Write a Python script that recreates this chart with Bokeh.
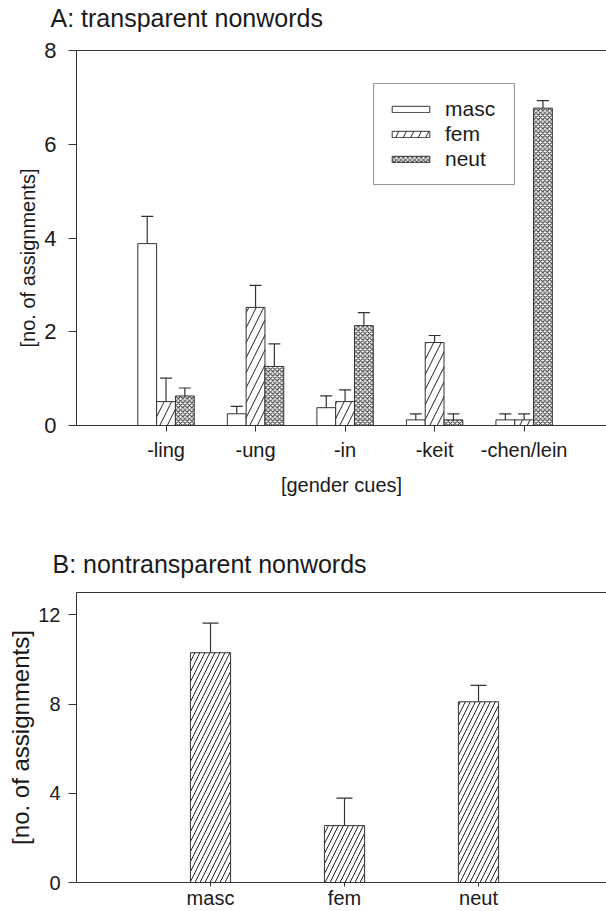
from bokeh.plotting import figure
from bokeh.models import (ColumnDataSource, Whisker, TeeHead, Legend, LegendItem,
                          LinearAxis, FixedTicker, Range1d, Title)
from bokeh.layouts import column
from bokeh.embed import file_html
from bokeh.resources import INLINE

# ---------------- data ----------------
cue_labels = ["-ling", "-ung", "-in", "-keit", "-chen/lein"]
cue_pos = [1, 2, 3, 4, 5]
masc_a = [3.88, 0.25, 0.38, 0.12, 0.12]
masc_a_err = [0.58, 0.16, 0.25, 0.13, 0.13]
fem_a = [0.51, 2.52, 0.51, 1.77, 0.12]
fem_a_err = [0.50, 0.47, 0.25, 0.15, 0.13]
neut_a = [0.63, 1.26, 2.13, 0.12, 6.77]
neut_a_err = [0.17, 0.48, 0.28, 0.13, 0.16]
y_ticks_a = [0, 2, 4, 6, 8]

gender_labels = ["masc", "fem", "neut"]
gender_pos = [1, 2, 3]
vals_b = [10.3, 2.55, 8.1]
errs_b = [1.33, 1.23, 0.74]
y_ticks_b = [0, 4, 8, 12]

FONT = "Liberation Sans"
INK = "#1a1a1a"
LINE = "#333333"


def style_axes(p, xticks, xlabels, yticks, ytick_size, ytick_standoff, xtick_out,
               xtick_standoff, top_gap_font, top_gap_standoff):
    p.xgrid.visible = False
    p.ygrid.visible = False
    p.outline_line_color = None
    p.background_fill_color = "white"
    p.border_fill_color = "white"
    xa = p.xaxis[0]
    xa.ticker = FixedTicker(ticks=xticks)
    xa.major_label_overrides = {t: l for t, l in zip(xticks, xlabels)}
    ya = p.yaxis[0]
    ya.ticker = FixedTicker(ticks=yticks)
    for ax in (xa, ya):
        ax.axis_line_color = LINE
        ax.axis_line_width = 1
        ax.major_tick_line_color = LINE
        ax.major_tick_in = 0
        ax.minor_tick_line_color = None
        ax.major_label_text_font = FONT
        ax.major_label_text_color = INK
        ax.major_label_text_font_size = "20px"
        ax.axis_label_text_font = FONT
        ax.axis_label_text_color = INK
        ax.axis_label_text_font_style = "normal"
    ya.major_label_text_font_size = ytick_size
    xa.major_tick_out = xtick_out
    ya.major_tick_out = 8
    xa.major_label_standoff = xtick_standoff
    ya.major_label_standoff = ytick_standoff
    # top frame line; its (blank) label only reserves room between title and frame
    top = LinearAxis(ticker=FixedTicker(ticks=[]), axis_line_color=LINE,
                     major_tick_line_color=None, minor_tick_line_color=None,
                     major_tick_out=0, major_tick_in=0, major_label_standoff=0,
                     major_label_text_font_size="0px",
                     axis_label="\u00a0", axis_label_text_font_size=top_gap_font,
                     axis_label_standoff=top_gap_standoff)
    p.add_layout(top, "above")
    return xa, ya


def style_title(p, text, offset):
    p.title.text = text
    p.title.align = "left"
    p.title.offset = offset
    p.title.text_font = FONT
    p.title.text_font_size = "25px"
    p.title.text_font_style = "normal"
    p.title.text_color = INK
    p.title.standoff = 0


# ---------------- panel A ----------------
pA = figure(width=606, height=545, x_range=Range1d(0, 5.92), y_range=Range1d(0, 8),
            output_backend="svg", toolbar_location=None,
            min_border_left=76, min_border_right=0, min_border_top=50, min_border_bottom=120)
style_title(pA, "A: transparent nonwords", -26)
xa, ya = style_axes(pA, cue_pos, cue_labels, y_ticks_a, "22px", 12, 6, 7, "10px", 5)
xa.axis_label = "[gender cues]"
xa.axis_label_text_font_size = "20px"
xa.axis_label_standoff = 10
pA.add_layout(Title(text="[no. of assignments]", align="left", offset=78, standoff=6,
                    text_font=FONT, text_font_size="20px", text_font_style="normal",
                    text_color=INK), "left")

bw = 0.21
series = [
    ("masc", masc_a, masc_a_err, -bw, None, 12),
    ("fem", fem_a, fem_a_err, 0.0, "/", 15),
    ("neut", neut_a, neut_a_err, bw, "x", 4.5),
]
items = []
for name, vals, errs, off, hatch, scale in series:
    xs = [c + off for c in cue_pos]
    src = ColumnDataSource(dict(x=xs, top=vals, up=[v + e for v, e in zip(vals, errs)]))
    kw = {}
    if hatch:
        kw = dict(hatch_pattern=hatch, hatch_scale=scale, hatch_color="#222222", hatch_weight=1)
    r = pA.vbar(x="x", top="top", width=bw, source=src, fill_color="white",
                line_color=LINE, line_width=1, **kw)
    pA.add_layout(Whisker(base="x", lower="top", upper="up", dimension="height", source=src,
                          line_color=LINE, line_width=1.2, lower_head=None,
                          upper_head=TeeHead(size=12, line_color=LINE, line_width=1.2)))
    items.append(LegendItem(label=name, renderers=[r]))

legend = Legend(items=items, location=(297, 240), orientation="vertical",
                glyph_width=47, glyph_height=8, label_standoff=11, label_width=56,
                label_text_font=FONT, label_text_font_size="21px", label_text_color=INK,
                padding=13, spacing=1, margin=0,
                border_line_color=LINE, border_line_width=1,
                background_fill_color="white", background_fill_alpha=1)
pA.add_layout(legend, "center")

# ---------------- panel B ----------------
pB = figure(width=606, height=366, x_range=Range1d(0, 3.955), y_range=Range1d(0, 13),
            output_backend="svg", toolbar_location=None,
            min_border_left=76, min_border_right=0, min_border_top=47, min_border_bottom=29)
style_title(pB, "B: nontransparent nonwords", -24)
xb, yb = style_axes(pB, gender_pos, gender_labels, y_ticks_b, "20px", 8, 4, 0, "10px", 1)
yb.axis_label = "[no. of assignments]"
yb.axis_label_text_font_size = "24px"
yb.axis_label_standoff = 1

srcB = ColumnDataSource(dict(x=gender_pos, top=vals_b, up=[v + e for v, e in zip(vals_b, errs_b)]))
pB.vbar(x="x", top="top", width=0.30, source=srcB, fill_color="white", line_color=LINE,
        line_width=1, hatch_pattern="/", hatch_scale=10, hatch_color="#222222", hatch_weight=1)
pB.add_layout(Whisker(base="x", lower="top", upper="up", dimension="height", source=srcB,
                      line_color=LINE, line_width=1.2, lower_head=None,
                      upper_head=TeeHead(size=16, line_color=LINE, line_width=1.2)))

layout = column(pA, pB, spacing=0)
open("out.html", "w").write(file_html(layout, INLINE))
